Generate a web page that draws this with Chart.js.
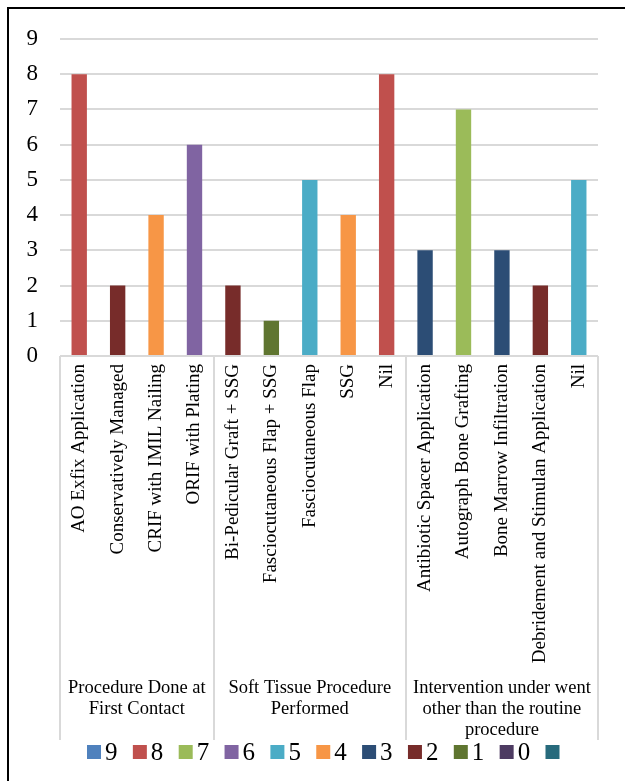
<!DOCTYPE html>
<html>
<head>
<meta charset="utf-8">
<script src="https://cdn.jsdelivr.net/npm/chart.js@4/dist/chart.umd.min.js"></script>
<style>
  html, body { margin: 0; padding: 0; background: #fff; overflow: hidden; }
  #wrap { position: relative; width: 625px; height: 781px; }
  #frame { position: absolute; left: 7px; top: 7px; width: 700px; height: 800px; border: 2px solid #000; box-sizing: border-box; pointer-events: none; }
  canvas { position: absolute; left: 0; top: 0; }
</style>
</head>
<body>
<div id="wrap">
  <canvas id="chart" width="625" height="781"></canvas>
  <div id="frame"></div>
</div>
<script>
// Procedure names along the category axis
const categories = [
  'AO Exfix Application', 'Conservatively Managed', 'CRIF with IMIL Nailing', 'ORIF with Plating',
  'Bi-Pedicular Graft + SSG', 'Fasciocutaneous Flap + SSG', 'Fasciocutaneous Flap', 'SSG', 'Nil',
  'Antibiotic Spacer Application', 'Autograph Bone Grafting', 'Bone Marrow Infiltration',
  'Debridement and Stimulan Application', 'Nil'
];
// Number of cases for each procedure
const values = [8, 2, 4, 6, 2, 1, 5, 4, 8, 3, 7, 3, 2, 5];

// Outer category groups and how many procedures each covers
const groupLabels = [
  ['Procedure Done at', 'First Contact'],
  ['Soft Tissue Procedure', 'Performed'],
  ['Intervention under went', 'other than the routine', 'procedure']
];
const groupSizes = [4, 5, 5];

// Legend series (one per count level) and y-axis ticks
const seriesNames = ['9', '8', '7', '6', '5', '4', '3', '2', '1', '0', ''];
const seriesLevels = [9, 8, 7, 6, 5, 4, 3, 2, 1, 0, null];
const seriesColors = ['#4F81BD', '#C0504D', '#9BBB59', '#8064A2', '#4BACC6', '#F79646',
                      '#2C4D75', '#772C2A', '#5F7530', '#4D3B62', '#276A7C'];
const yTicks = [0, 1, 2, 3, 4, 5, 6, 7, 8, 9];

const SERIF = "'Liberation Serif', serif";

const datasets = seriesNames.map((name, i) => ({
  label: name,
  data: values.map(v => (v === seriesLevels[i] ? v : null)),
  backgroundColor: seriesColors[i],
  borderWidth: 0
}));

// Group separators, group captions and the legend row under the axis
const groupPlugin = {
  id: 'groupAxis',
  afterDraw(chart) {
    const { ctx, chartArea } = chart;
    const x = chart.scales.x;
    const bottom = chartArea.bottom;
    const sepBottom = bottom + 384;
    const n = categories.length;
    const edge = i => {
      if (i <= 0) return chartArea.left;
      if (i >= n) return chartArea.right;
      return (x.getPixelForTick(i - 1) + x.getPixelForTick(i)) / 2;
    };
    ctx.save();
    ctx.strokeStyle = '#d9d9d9';
    ctx.lineWidth = 2;
    let start = 0;
    const bounds = [0];
    groupSizes.forEach(s => { start += s; bounds.push(start); });
    bounds.forEach(b => {
      const px = Math.round(edge(b));
      ctx.beginPath();
      ctx.moveTo(px, bottom);
      ctx.lineTo(px, sepBottom);
      ctx.stroke();
    });
    ctx.fillStyle = '#000';
    ctx.font = "18.5px 'Liberation Serif', serif";
    ctx.textAlign = 'center';
    ctx.textBaseline = 'alphabetic';
    groupLabels.forEach((lines, g) => {
      const cx = (edge(bounds[g]) + edge(bounds[g + 1])) / 2;
      lines.forEach((t, k) => ctx.fillText(t, cx, bottom + 337 + k * 21));
    });

    // legend
    ctx.font = "25px 'Liberation Serif', serif";
    ctx.textAlign = 'left';
    ctx.textBaseline = 'middle';
    let lx = chartArea.left + 27;
    const ly = bottom + 396;
    chart.data.datasets.forEach(ds => {
      ctx.fillStyle = ds.backgroundColor;
      ctx.fillRect(lx, ly - 7, 14, 14);
      ctx.fillStyle = '#000';
      ctx.fillText(ds.label, lx + 18, ly + 1);
      lx += 45.85;
    });
    ctx.restore();
  }
};

function build() {
  new Chart(document.getElementById('chart'), {
    type: 'bar',
    data: { labels: categories, datasets },
    options: {
      responsive: false,
      animation: false,
      layout: { padding: { top: 39, right: 27, left: 0, bottom: 0 } },
      plugins: { legend: { display: false }, tooltip: { enabled: false } },
      datasets: { bar: { categoryPercentage: 1, barPercentage: 0.4 } },
      scales: {
        x: {
          stacked: true,
          grid: { display: false },
          border: { display: false },
          ticks: {
            autoSkip: false,
            maxRotation: 90,
            minRotation: 90,
            padding: 0,
            color: '#000',
            font: { family: SERIF, size: 19 }
          },
          afterFit(scale) { scale.height = 425; }
        },
        y: {
          stacked: true,
          min: 0,
          max: 9,
          afterBuildTicks(scale) { scale.ticks = yTicks.map(v => ({ value: v })); },
          grid: { color: '#d9d9d9', lineWidth: 2, drawTicks: false },
          border: { display: false },
          ticks: {
            padding: 22,
            color: '#000',
            font: { family: SERIF, size: 23 }
          },
          afterFit(scale) { scale.width = 60; }
        }
      }
    },
    plugins: [groupPlugin]
  });
}

Promise.all([
  document.fonts.load("19px 'Liberation Serif'"),
  document.fonts.load("25px 'Liberation Serif'")
]).then(build, build);
</script>
</body>
</html>
